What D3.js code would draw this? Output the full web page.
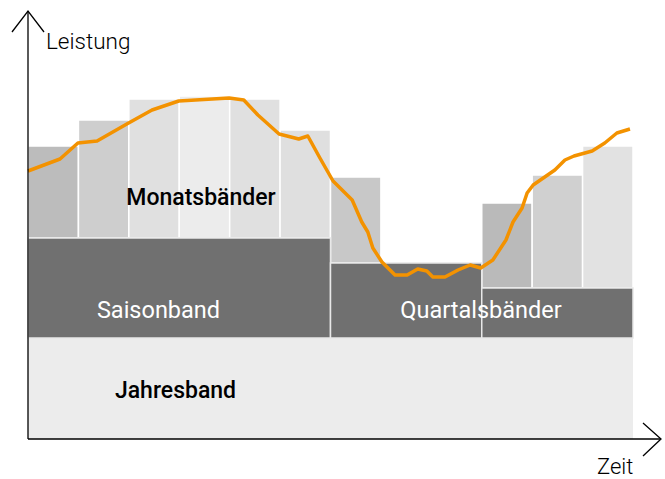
<!DOCTYPE html>
<html lang="de">
<head>
<meta charset="utf-8">
<script src="https://cdn.jsdelivr.net/npm/d3@7"></script>
<style>
  body { margin: 0; background: #fff; }
  svg text { font-family: Roboto, "Liberation Sans", sans-serif; }
  svg text.achsentitel { font-weight: 300; }
  svg text.dunkel { font-weight: 500; }
  svg text.hell { font-weight: 400; }
</style>
</head>
<body>
<svg id="chart" width="665" height="479"></svg>
<script>
    // Leistung in relativen Einheiten (0..100), Zeit in Monaten (0..12)
    let jahresband = 25.25;
    let saisonband = [{ von: 0, bis: 6, wert: 50.25 }];
    let quartalsbaender = [
        { von: 6, bis: 9, wert: 44 },
        { von: 9, bis: 12, wert: 37.75 }
    ];
    let monatsWerte = [73.25, 79.75, 85, 85.75, 85, 77.25, 65.5, 44, 44, 59, 66, 73.25];
    let monatsFarben = ["#bcbcbc", "#cecece", "#e0e0e0", "#ececec", "#e0e0e0", "#dfdfdf",
                        "#c8c8c8", "#c8c8c8", "#c8c8c8", "#bababa", "#d0d0d0", "#e2e2e2"];

    let lastgang = [
        [0, 67], [0.635, 70], [0.99, 74], [1.37, 74.5], [1.96, 78.75], [2.46, 82.25],
        [2.99, 84.5], [3.99, 85.25], [4.28, 84.75], [4.56, 81], [4.98, 76.25], [5.37, 75],
        [5.55, 75.75], [5.79, 70.25], [6.05, 64.5], [6.43, 59.75], [6.62, 54.25],
        [6.74, 51.75], [6.84, 47.75], [7.02, 44.25], [7.28, 41], [7.52, 41], [7.73, 42.5],
        [7.91, 42], [8.03, 40.5], [8.27, 40.5], [8.53, 42.25], [8.77, 43.5], [8.98, 42.75],
        [9.22, 44.75], [9.48, 49.75], [9.62, 54.25], [9.80, 57.75], [9.90, 61.5],
        [10.02, 63.5], [10.45, 67.25], [10.65, 69.75], [10.83, 70.75], [11.19, 72],
        [11.44, 74], [11.68, 76.5], [11.94, 77.5]
    ];

    var svg = d3.select("#chart");

    var x = d3.scaleLinear().domain([0, 12]).range([28, 633]);
    var y = d3.scaleLinear().domain([0, 100]).range([439, 39]);

    // Monatsbänder: jeweils über Saison- bzw. Quartalsband
    var basis = function(m) {
        var mitte = m + 0.5;
        var s = saisonband.find(b => mitte >= b.von && mitte < b.bis);
        if (s) return s.wert;
        var q = quartalsbaender.find(b => mitte >= b.von && mitte < b.bis);
        return q ? q.wert : jahresband;
    };

    svg.append("rect")
        .attr("x", x(0)).attr("y", y(jahresband))
        .attr("width", x(12) - x(0)).attr("height", y(0) - y(jahresband))
        .attr("fill", "#ececec");

    svg.selectAll(".monat")
        .data(monatsWerte)
        .enter().append("rect")
        .attr("class", "monat")
        .attr("x", (d, i) => x(i))
        .attr("y", d => y(d))
        .attr("width", x(1) - x(0))
        .attr("height", (d, i) => Math.max(0, y(basis(i)) - y(d)))
        .attr("fill", (d, i) => monatsFarben[i])
        .attr("stroke", "#fff")
        .attr("stroke-width", 1.5);

    svg.selectAll(".band")
        .data(saisonband.concat(quartalsbaender))
        .enter().append("rect")
        .attr("class", "band")
        .attr("x", d => x(d.von))
        .attr("y", d => y(d.wert))
        .attr("width", d => x(d.bis) - x(d.von))
        .attr("height", d => y(jahresband) - y(d.wert))
        .attr("fill", "#707070")
        .attr("stroke", "#e8e8e8")
        .attr("stroke-width", 1.5);

    // Lastgang
    var linie = d3.line().x(d => x(d[0])).y(d => y(d[1]));
    svg.append("path")
        .datum(lastgang)
        .attr("d", linie)
        .attr("fill", "none")
        .attr("stroke", "#f39200")
        .attr("stroke-width", 3.5)
        .attr("stroke-linejoin", "round");

    // Achsen mit Pfeilen
    var achse = svg.append("g").attr("stroke", "#000").attr("fill", "none").attr("stroke-width", 1.3);
    achse.append("line").attr("x1", 28).attr("y1", 439).attr("x2", 28).attr("y2", 11);
    achse.append("polyline").attr("points", "12,32 28,11 44,32");
    achse.append("line").attr("x1", 28).attr("y1", 439).attr("x2", 660).attr("y2", 439);
    achse.append("polyline").attr("points", "643,423 661,439 643,456");

    svg.append("text").attr("class", "achsentitel").attr("x", 46).attr("y", 49)
        .attr("font-size", 22.5).text("Leistung");
    svg.append("text").attr("class", "achsentitel").attr("x", 597).attr("y", 474)
        .attr("font-size", 22).text("Zeit");

    var labels = [
        { t: "Monatsbänder", x: 201, y: 205, c: "#000", k: "dunkel", s: 23 },
        { t: "Saisonband", x: 158.5, y: 318, c: "#fff", k: "hell", s: 23.5 },
        { t: "Quartalsbänder", x: 481, y: 318, c: "#fff", k: "hell", s: 23.5 },
        { t: "Jahresband", x: 175.5, y: 398, c: "#000", k: "dunkel", s: 23 }
    ];
    svg.selectAll(".lab")
        .data(labels)
        .enter().append("text")
        .attr("class", d => "lab " + d.k)
        .attr("x", d => d.x).attr("y", d => d.y)
        .attr("text-anchor", "middle")
        .attr("font-size", d => d.s)
        .attr("fill", d => d.c)
        .text(d => d.t);
</script>
</body>
</html>
